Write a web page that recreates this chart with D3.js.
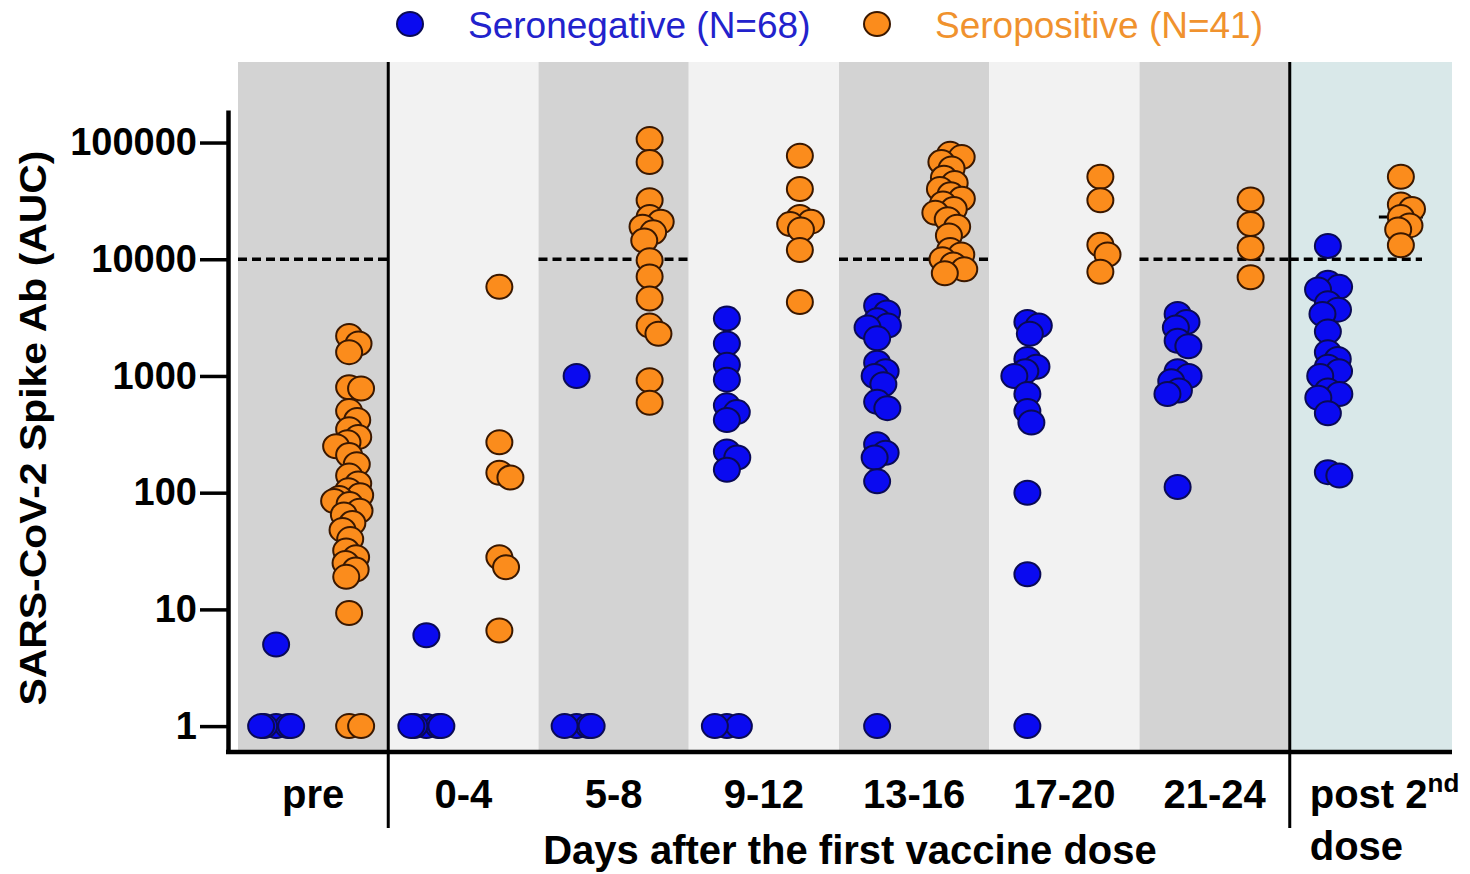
<!DOCTYPE html>
<html><head><meta charset="utf-8">
<script src="https://cdn.jsdelivr.net/npm/d3@7"></script>
<style>
body{margin:0;background:#fff;}
svg{display:block;font-family:Arial,"Liberation Sans",sans-serif;}
</style>
</head><body>
<svg id="chart" width="1470" height="874"></svg>
<script>
// ---------------- DATA ----------------
const categories = ["pre", "0-4", "5-8", "9-12", "13-16", "17-20", "21-24", "post"];
const categoryLabels = ["pre", "0-4", "5-8", "9-12", "13-16", "17-20", "21-24", "post 2nd dose"];
const seriesNames = ["Seronegative (N=68)", "Seropositive (N=41)"];

const seronegative = [
  [5, 1, 1, 1, 1, 1],
  [6, 1, 1, 1, 1, 1],
  [1000, 1, 1, 1, 1],
  [3100, 1900, 1250, 930, 560, 490, 420, 225, 200, 157, 1, 1, 1],
  [4000, 3500, 3000, 2700, 2600, 2100, 1300, 1100, 1000, 850, 600, 530, 260, 220, 200, 125, 1],
  [2900, 2700, 2300, 1400, 1200, 1100, 1000, 700, 500, 400, 100, 20, 1],
  [3400, 2900, 2600, 2000, 1800, 1100, 1000, 900, 750, 700, 112],
  [13000, 6300, 5800, 5500, 4200, 3700, 3400, 2400, 1600, 1400, 1200, 1100, 1000, 750, 700, 650, 480, 150, 140]
];
const seropositive = [
  [2200, 1900, 1600, 800, 780, 500, 420, 350, 300, 270, 250, 210, 175, 140, 120, 105, 95, 90, 85, 80, 70, 65, 55, 48, 40, 32, 28, 25, 22, 19, 9.3, 1, 1],
  [5800, 270, 148, 135, 28, 23, 6.6],
  [107000, 68000, 32000, 23000, 21000, 19000, 17000, 14500, 9800, 7100, 4600, 2700, 2300, 920, 590],
  [77000, 40000, 23000, 21000, 20000, 18000, 12000, 4300],
  [80000, 75000, 68000, 60000, 50000, 45000, 40000, 36000, 33000, 30000, 27000, 25000, 22000, 19000, 16000, 12000, 11000, 10000, 9000, 8200, 7600],
  [51000, 32000, 13300, 11000, 7800],
  [32500, 20000, 12500, 7000],
  [51000, 29500, 27000, 23000, 19500, 18000, 13200]
];
const yTicks = [1, 10, 100, 1000, 10000, 100000];
const threshold = 10000;
const thresholdBands = ["pre", "5-8", "13-16", "21-24", "post"];
const separatorsBefore = ["0-4", "post"];
const visibleMedians = [{ series: 1, category: "post" }];
const xTitle = "Days after the first vaccine dose";
const yTitle = "SARS-CoV-2 Spike Ab (AUC)";

// ---------------- STYLE ----------------
const bandShades = ["#d3d3d3", "#f2f2f2", "#d3d3d3", "#f2f2f2", "#d3d3d3", "#f2f2f2", "#d3d3d3", "#d9e8e9"];
const fills = ["#0a0af0", "#fb8c1c"];
const strokes = ["#0a0a55", "#3a1800"];
const textColors = ["#2222cc", "#f0922e"];

const svg = d3.select("#chart");

const x = d3.scaleBand().domain(categories).range([238, 1440]).paddingInner(0).paddingOuter(0);
const y = d3.scaleLog().domain([0.6, 190000]).range([752, 110]);
const axisRight = 1452;
const bandTop = 62;

// background bands
svg.append("g").selectAll("rect").data(categories).join("rect")
  .attr("x", d => x(d))
  .attr("y", bandTop)
  .attr("width", (d, i) => i === categories.length - 1 ? axisRight - x(d) : x.bandwidth())
  .attr("height", y.range()[0] - bandTop)
  .attr("fill", (d, i) => bandShades[i]);

// threshold dashed line
svg.append("g").selectAll("line").data(thresholdBands).join("line")
  .attr("x1", d => x(d))
  .attr("x2", d => x(d) + x.bandwidth() - (d === "post" ? 18 : 0))
  .attr("y1", y(threshold)).attr("y2", y(threshold))
  .attr("stroke", "#000").attr("stroke-width", 3.5)
  .attr("stroke-dasharray", "9,5");

// separators
svg.append("g").selectAll("line").data(separatorsBefore).join("line")
  .attr("x1", d => x(d)).attr("x2", d => x(d))
  .attr("y1", bandTop).attr("y2", 828)
  .attr("stroke", "#000").attr("stroke-width", 3);

// dodge layout
function dodge(values, d, maxOff) {
  const pts = values.map(v => ({ v, y: y(v), x: 0 }));
  const order = pts.slice().sort((a, b) => a.y - b.y);
  const placed = [];
  for (const p of order) {
    const near = placed.filter(q => Math.abs(q.y - p.y) < d);
    const cands = [0];
    for (const q of near) {
      const dx = Math.sqrt(d * d - (q.y - p.y) ** 2);
      cands.push(q.x + dx, q.x - dx);
    }
    cands.sort((a, b) => Math.abs(a) - Math.abs(b) || b - a);
    let chosen = null;
    for (const c of cands) {
      if (near.every(q => (q.x - c) ** 2 + (q.y - p.y) ** 2 >= d * d - 0.01)) { chosen = c; break; }
    }
    if (chosen === null) chosen = 0;
    p.x = Math.max(-maxOff, Math.min(maxOff, chosen));
    placed.push(p);
  }
  return order;
}

const seriesData = [seronegative, seropositive];
const offsets = [-37, 36];
const rx = 13, ry = 12;

seriesData.forEach((ser, s) => {
  const g = svg.append("g");
  categories.forEach((cat, ci) => {
    const cx = x(cat) + x.bandwidth() / 2 + offsets[s];
    const vals = ser[ci];
    if (visibleMedians.some(m => m.series === s && m.category === cat)) {
      const med = d3.median(vals);
      g.append("line")
        .attr("x1", cx - 22).attr("x2", cx + 22)
        .attr("y1", y(med)).attr("y2", y(med))
        .attr("stroke", "#000").attr("stroke-width", 3);
    }
    const pts = dodge(vals, 12, 15);
    g.selectAll(null).data(pts).join("ellipse")
      .attr("cx", p => cx + p.x)
      .attr("cy", p => p.y)
      .attr("rx", rx).attr("ry", ry)
      .attr("fill", fills[s])
      .attr("stroke", strokes[s])
      .attr("stroke-width", 2);
  });
});

// y axis
const yAxis = d3.axisLeft(y).tickValues(yTicks).tickFormat(d3.format("d")).tickSize(28).tickSizeOuter(0).tickPadding(3);
const ga = svg.append("g").attr("transform", "translate(228,0)").call(yAxis);
ga.select(".domain").attr("stroke-width", 4.5).attr("stroke", "#000");
ga.selectAll(".tick line").attr("stroke-width", 3.5).attr("stroke", "#000");
ga.selectAll(".tick text").attr("font-size", 38).attr("font-weight", "bold")
  .attr("font-family", "Arial, 'Liberation Sans', sans-serif").attr("fill", "#000");

// bottom axis line
svg.append("line").attr("x1", 226).attr("x2", axisRight).attr("y1", 752).attr("y2", 752)
  .attr("stroke", "#000").attr("stroke-width", 4.5);

// x labels
const xAxis = d3.axisBottom(x).tickSize(0).tickPadding(28)
  .tickFormat((d, i) => d === "post" ? "" : categoryLabels[i]);
const gx = svg.append("g").attr("transform", "translate(0,752)").call(xAxis);
gx.select(".domain").remove();
gx.selectAll(".tick text").attr("font-size", 40).attr("font-weight", "bold")
  .attr("font-family", "Arial, 'Liberation Sans', sans-serif").attr("fill", "#000");

// post 2nd dose label
const postX = x("post") + 20;
const pt = svg.append("text").attr("x", postX).attr("y", 808)
  .attr("font-size", 40).attr("font-weight", "bold").attr("fill", "#000");
pt.append("tspan").text("post 2");
pt.append("tspan").attr("font-size", 26).attr("dy", -16).text("nd");
svg.append("text").attr("x", postX).attr("y", 860)
  .attr("font-size", 40).attr("font-weight", "bold").attr("fill", "#000").text("dose");

// axis titles
svg.append("text").attr("x", 850).attr("y", 864).attr("text-anchor", "middle")
  .attr("font-size", 40).attr("font-weight", "bold").attr("fill", "#000").text(xTitle);
svg.append("text").attr("transform", "translate(46,428) rotate(-90)").attr("text-anchor", "middle")
  .attr("font-size", 36).attr("font-weight", "bold").attr("fill", "#000")
  .attr("textLength", 555).attr("lengthAdjust", "spacingAndGlyphs").text(yTitle);

// legend
const legendX = [410, 877];
seriesNames.forEach((name, s) => {
  svg.append("ellipse").attr("cx", legendX[s]).attr("cy", 24).attr("rx", rx).attr("ry", ry)
    .attr("fill", fills[s]).attr("stroke", strokes[s]).attr("stroke-width", 2);
  svg.append("text").attr("x", legendX[s] + 58).attr("y", 38)
    .attr("font-size", 37).attr("fill", textColors[s]).text(name);
});
</script>
</body></html>
